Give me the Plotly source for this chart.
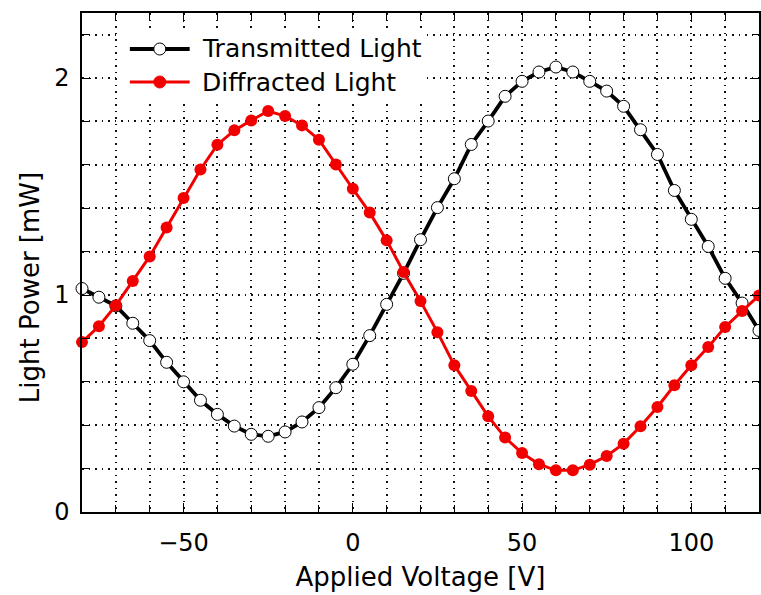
import plotly.graph_objects as go

# Applied voltage sweep [V]
voltage = list(range(-80, 121, 5))

# Transmitted light power [mW]
transmitted = [1.03, 0.99, 0.95, 0.87, 0.79, 0.69, 0.60, 0.515, 0.45, 0.396, 0.358, 0.349,
               0.369, 0.415, 0.481, 0.573, 0.681, 0.813, 0.957, 1.10, 1.255, 1.403, 1.536,
               1.694, 1.802, 1.916, 1.985, 2.028, 2.051, 2.028, 1.985, 1.94, 1.87, 1.762,
               1.648, 1.482, 1.349, 1.224, 1.077, 0.963, 0.837]

# Diffracted light power [mW]
diffracted = [0.783, 0.856, 0.952, 1.065, 1.178, 1.311, 1.447, 1.579, 1.693, 1.759, 1.805,
              1.848, 1.825, 1.782, 1.716, 1.602, 1.49, 1.38, 1.252, 1.106, 0.972, 0.829,
              0.676, 0.558, 0.441, 0.343, 0.272, 0.22, 0.192, 0.192, 0.218, 0.258, 0.315,
              0.395, 0.484, 0.584, 0.676, 0.76, 0.853, 0.926, 0.998]

x_ticks = [-50, 0, 50, 100]
y_ticks = [0, 1, 2]

FONT = "DejaVu Sans"
TICK_SIZE = 24
TITLE_SIZE = 26
LEGEND_SIZE = 25
RED = "#f20000"
W, H = 761, 595
L, R, T, B = 82, 0, 13, 83
GRID_DASH = "1.5px,5px"

fig = go.Figure()
fig.add_trace(go.Scatter(
    x=voltage, y=transmitted, mode="lines+markers", name="Transmitted Light",
    line=dict(color="black", width=3.8),
    marker=dict(symbol="circle", size=12, color="white", line=dict(color="black", width=1)),
    cliponaxis=False,
))
fig.add_trace(go.Scatter(
    x=voltage, y=diffracted, mode="lines+markers", name="Diffracted Light",
    line=dict(color=RED, width=3),
    marker=dict(symbol="circle", size=12, color=RED),
    cliponaxis=False,
))

axis_common = dict(
    showline=True, linecolor="black", linewidth=1.5, mirror="ticks",
    ticks="inside", tickcolor="black", ticklen=9, tickwidth=1,
    showgrid=True, gridcolor="#111111", gridwidth=1.5, griddash=GRID_DASH,
    zeroline=False,
    tickfont=dict(family=FONT, size=TICK_SIZE, color="black"),
)
minor_common = dict(ticks="inside", ticklen=7, tickcolor="black", showgrid=True,
                    gridcolor="#111111", gridwidth=1.5, griddash=GRID_DASH)

fig.update_xaxes(
    range=[-80, 120], tickvals=x_ticks,
    minor=dict(dtick=10, tick0=0, **minor_common),
    title=dict(text="Applied Voltage [V]",
               font=dict(family=FONT, size=TITLE_SIZE, color="black"), standoff=12),
    ticklabelstandoff=8,
    **axis_common,
)
fig.update_yaxes(
    range=[0, 2.3], tickvals=y_ticks,
    minor=dict(dtick=0.2, tick0=0, **minor_common),
    ticklabelstandoff=6,
    **axis_common,
)

pw, ph = W - L - R, H - T - B


def px(xp):
    return (xp - L) / pw


def py(yp):
    return (H - B - yp) / ph


# y-axis title as rotated text
fig.add_annotation(
    text="Light Power [mW]", xref="paper", yref="paper",
    x=px(30), y=py(288), xanchor="center", yanchor="middle", textangle=-90,
    showarrow=False, font=dict(family=FONT, size=TITLE_SIZE, color="black"),
)

# Legend drawn in paper coordinates
fig.add_shape(type="rect", xref="paper", yref="paper", x0=px(120), x1=px(427),
              y0=py(100), y1=py(28), fillcolor="white", line=dict(width=0), layer="above")
legend_rows = [("Transmitted Light", 49, "black", 3.8, "white"),
               ("Diffracted Light", 82, RED, 3, RED)]
for label, yp, col, lw, fill in legend_rows:
    fig.add_shape(type="line", xref="paper", yref="paper", x0=px(130), x1=px(190),
                  y0=py(yp), y1=py(yp), line=dict(color=col, width=lw), layer="above")
    fig.add_shape(type="circle", xref="paper", yref="paper", xsizemode="pixel",
                  ysizemode="pixel", xanchor=px(160), yanchor=py(yp),
                  x0=-6, x1=6, y0=-6, y1=6,
                  fillcolor=fill, line=dict(color=col, width=1), layer="above")
    fig.add_annotation(text=label, xref="paper", yref="paper", x=px(200), y=py(yp),
                       xanchor="left", yanchor="middle", showarrow=False,
                       font=dict(family=FONT, size=LEGEND_SIZE, color="black"))

fig.update_layout(
    width=W, height=H, margin=dict(l=L, r=R, t=T, b=B),
    paper_bgcolor="white", plot_bgcolor="white", showlegend=False,
)

fig.write_html("out.html")
